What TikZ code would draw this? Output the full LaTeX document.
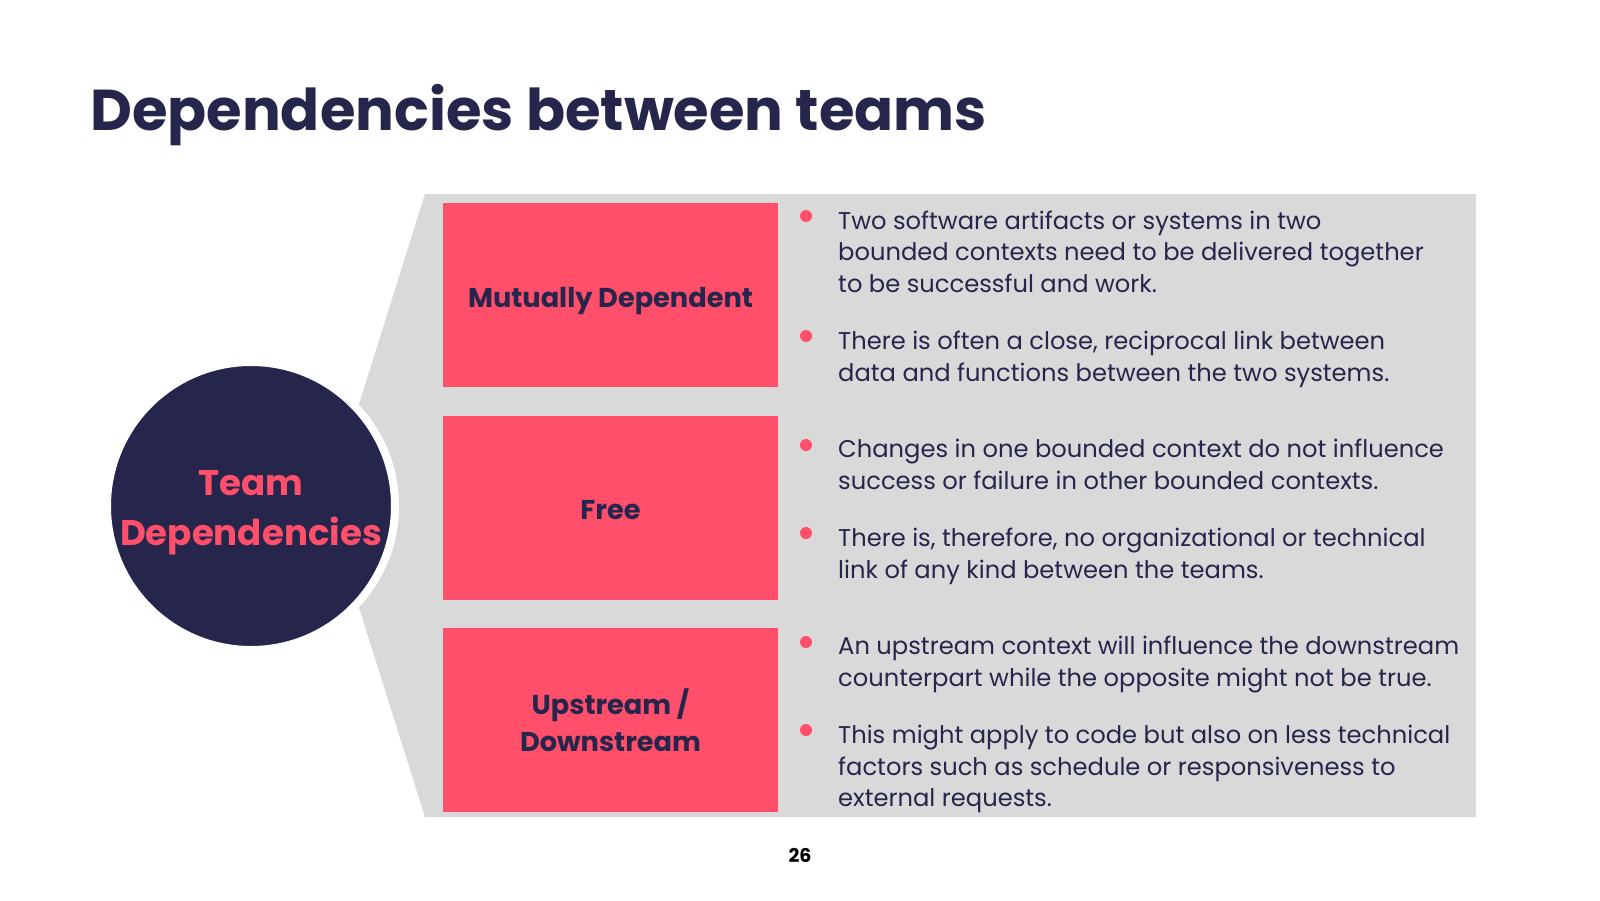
\documentclass[tikz,border=0pt]{standalone}
\usepackage{fontspec}
\setmainfont{Poppins}
\definecolor{navy}{HTML}{26264D}
\definecolor{pinkc}{HTML}{FF4F6A}
\definecolor{greyc}{HTML}{D9D9D9}
\begin{document}
\begin{tikzpicture}[x=1pt,y=-1pt,
  catbox/.style={fill=pinkc, minimum width=335pt, minimum height=184pt, inner sep=0pt},
  catlabel/.style={inner sep=0pt, text=navy, font=\fontsize{27.2}{37}\selectfont\bfseries, align=center},
  bodytext/.style={anchor=base west, inner sep=0pt, text=navy, align=left, font=\fontsize{24.2}{31.7}\selectfont},
  bullet/.style={circle, fill=pinkc, minimum size=12pt, inner sep=0pt}
]
\useasboundingbox (0,0) rectangle (1600,900);
\fill[white] (0,0) rectangle (1600,900);
\node[anchor=base west, inner sep=0pt, text=navy, font=\fontsize{57.6}{60}\selectfont\bfseries] (title) at (90,130) {Dependencies between teams};
\fill[greyc] (425,194) -- (1476,194) -- (1476,817) -- (425,817) -- (327,506) -- cycle;
\node[circle, fill=navy, draw=white, line width=8pt, minimum size=288pt, inner sep=0pt] (hub) at (251,506) {};
\node[inner sep=0pt, text=pinkc, align=center, font=\fontsize{35.6}{50}\selectfont\bfseries] (hublabel) at (251,513) {Team\\Dependencies};
\node[catbox] (mut) at (610.5,295) {};
\node[catbox] (free) at (610.5,507.5) {};
\node[catbox] (ups) at (610.5,720) {};
\node[catlabel] (mutl) at (610.5,301) {Mutually Dependent};
\node[catlabel] (freel) at (610.5,510.5) {Free};
\node[catlabel] (upsl) at (610.5,720) {Upstream /\\Downstream};
\node[bullet] (b1) at (806,216) {};
\node[bullet] (b2) at (806,336) {};
\node[bullet] (b3) at (806,445) {};
\node[bullet] (b4) at (806,533) {};
\node[bullet] (b5) at (806,642) {};
\node[bullet] (b6) at (806,730) {};
% anchor "base" of a multi-line node is the baseline of its last line
\node[bodytext] (t1) at (838,292.4) {Two software artifacts or systems in two\\bounded contexts need to be delivered together\\to be successful and work.};
\node[bodytext] (t2) at (838,381.1) {There is often a close, reciprocal link between\\data and functions between the two systems.};
\node[bodytext] (t3) at (838,489.3) {Changes in one bounded context do not influence\\success or failure in other bounded contexts.};
\node[bodytext] (t4) at (838,578.1) {There is, therefore, no organizational or technical\\link of any kind between the teams.};
\node[bodytext] (t5) at (838,686.3) {An upstream context will influence the downstream\\counterpart while the opposite might not be true.};
\node[bodytext] (t6) at (838,806.7) {This might apply to code but also on less technical\\factors such as schedule or responsiveness to\\external requests.};
\node[anchor=base, inner sep=0pt, text=black, font=\fontsize{19}{22}\selectfont\bfseries] (page) at (800,862) {26};
\end{tikzpicture}
\end{document}
